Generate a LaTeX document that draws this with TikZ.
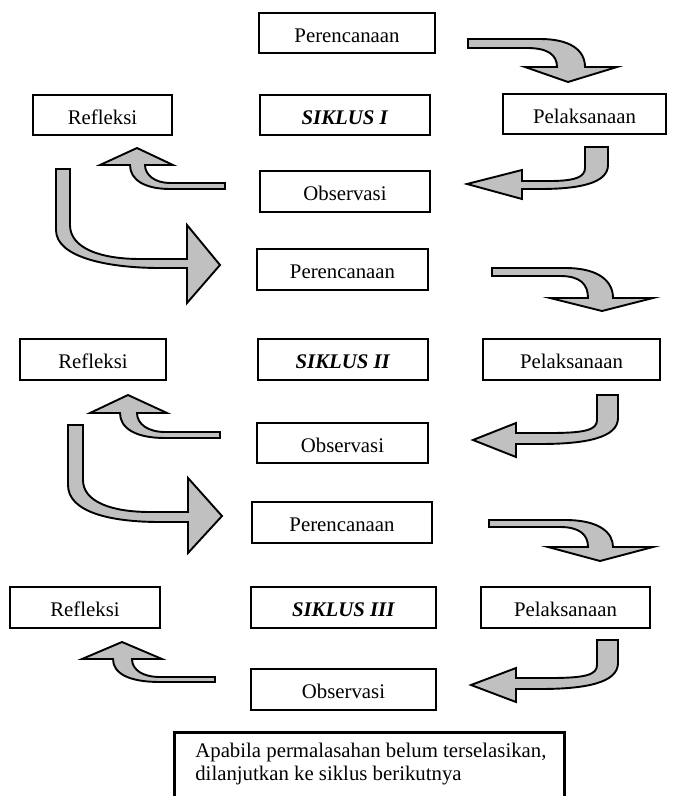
\documentclass[tikz,border=0pt]{standalone}
\usepackage{fontspec}
\setmainfont{Liberation Serif}
\definecolor{arrowgray}{RGB}{192,192,192}

\begin{document}
\begin{tikzpicture}[x=0.577pt, y=-0.577pt,
    box/.style={draw, line width=1.2pt, inner sep=0pt, minimum height=23.5pt,
        text height=10.8pt, text depth=0pt, font=\fontsize{12}{14}\selectfont},
    notebox/.style={draw, line width=1.7pt, inner sep=0pt},
    blockarrow/.style={draw=black, fill=arrowgray, line width=1.1pt, line join=miter}]
    \useasboundingbox (0,0) rectangle (683,796);

    % Siklus I
    \node[box, minimum width=101.6pt] (per1) at (347,33) {Perencanaan};
    \node[box, minimum width=80.2pt] (ref1) at (102.5,115) {Refleksi};
    \node[box, minimum width=98.1pt] (sik1) at (345,115) {\textbf{\textit{SIKLUS I}}};
    \node[box, minimum width=94pt] (pel1) at (584.5,114) {Pelaksanaan};
    \node[box, minimum width=98.1pt] (obs1) at (345,191.5) {Observasi};

    \draw[blockarrow] (468,39) -- (540,39) .. controls (570,39) and (585,50) .. (585,67)
        -- (617,67) -- (568,82) -- (525,67) -- (557,67) .. controls (557,55) and (548,48) .. (527,48)
        -- (468,48) -- cycle;
    \draw[blockarrow] (585,147) -- (608,147) -- (608,165) .. controls (608,183) and (580,189) .. (540,189)
        -- (522,189) -- (522,199) -- (467,184) -- (522,170) -- (522,181) -- (550,181)
        .. controls (575,181) and (585,177) .. (585,168) -- cycle;
    \draw[blockarrow] (225,183) -- (225,189) -- (170,189) .. controls (145,189) and (130,180) .. (130,165)
        -- (100,165) -- (137,148) -- (173,165) -- (145,165) .. controls (145,175) and (155,183) .. (170,183) -- cycle;
    \draw[blockarrow] (56,169) -- (70,169) -- (70,225) .. controls (70,248) and (100,259) .. (140,259)
        -- (187,259) -- (187,225) -- (220,265) -- (187,303) -- (187,268) -- (160,268)
        .. controls (110,268) and (56,258) .. (56,230) -- cycle;

    % Siklus II
    \node[box, minimum width=98.7pt] (per2) at (342.5,269.5) {Perencanaan};
    \node[box, minimum width=84.2pt] (ref2) at (93,359.5) {Refleksi};
    \node[box, minimum width=98.1pt] (sik2) at (343,359.5) {\textbf{\textit{SIKLUS II}}};
    \node[box, minimum width=102pt] (pel2) at (571.5,359.5) {Pelaksanaan};
    \node[box, minimum width=98.7pt] (obs2) at (342.5,443) {Observasi};

    \draw[blockarrow] (492,268) -- (565,268) .. controls (600,268) and (613,282) .. (613,298)
        -- (653,298) -- (602,311) -- (550,298) -- (588,298) .. controls (588,284) and (580,276) .. (560,276)
        -- (492,276) -- cycle;
    \draw[blockarrow] (597,395) -- (618,395) -- (618,418) .. controls (618,438) and (585,444) .. (540,444)
        -- (516,444) -- (516,457) -- (473,440) -- (516,423) -- (516,433) -- (550,433)
        .. controls (585,433) and (597,430) .. (597,420) -- cycle;
    \draw[blockarrow] (220,432) -- (220,438) -- (165,438) .. controls (135,438) and (120,428) .. (120,413)
        -- (90,413) -- (128,395) -- (167,413) -- (137,413) .. controls (137,424) and (148,432) .. (165,432) -- cycle;
    \draw[blockarrow] (68,425) -- (83,425) -- (83,480) .. controls (83,502) and (112,512) .. (150,512)
        -- (188,512) -- (188,478) -- (222,516) -- (188,553) -- (188,522) -- (160,522)
        .. controls (110,522) and (68,512) .. (68,485) -- cycle;

    % Siklus III
    \node[box, minimum width=103.9pt] (per3) at (342,522.5) {Perencanaan};
    \node[box, minimum width=86.6pt] (ref3) at (85,607.5) {Refleksi};
    \node[box, minimum width=106.7pt] (sik3) at (343.5,607.5) {\textbf{\textit{SIKLUS III}}};
    \node[box, minimum width=97.5pt] (pel3) at (565.5,607.5) {Pelaksanaan};
    \node[box, minimum width=106.7pt] (obs3) at (343.5,689.5) {Observasi};

    \draw[blockarrow] (489,520) -- (565,520) .. controls (600,520) and (613,533) .. (613,547)
        -- (653,547) -- (600,561) -- (548,547) -- (588,547) .. controls (588,535) and (580,527) .. (560,527)
        -- (489,527) -- cycle;
    \draw[blockarrow] (597,640) -- (618,640) -- (618,663) .. controls (618,683) and (585,689) .. (540,689)
        -- (516,689) -- (516,702) -- (471,685) -- (516,668) -- (516,678) -- (550,678)
        .. controls (585,678) and (597,675) .. (597,665) -- cycle;
    \draw[blockarrow] (215,677) -- (215,682) -- (160,682) .. controls (128,682) and (113,673) .. (113,659)
        -- (82,659) -- (122,642) -- (162,659) -- (132,659) .. controls (132,670) and (143,677) .. (160,677) -- cycle;

    % Catatan
    \node[notebox, anchor=north west, minimum width=225pt, minimum height=57pt] (note) at (173,731) {};
    \node[anchor=north west, inner sep=0pt, align=left, font=\fontsize{12}{13.3}\selectfont] (notetext) at (195,743)
        {Apabila permalasahan belum terselasikan,\\dilanjutkan ke siklus berikutnya};
\end{tikzpicture}
\end{document}
